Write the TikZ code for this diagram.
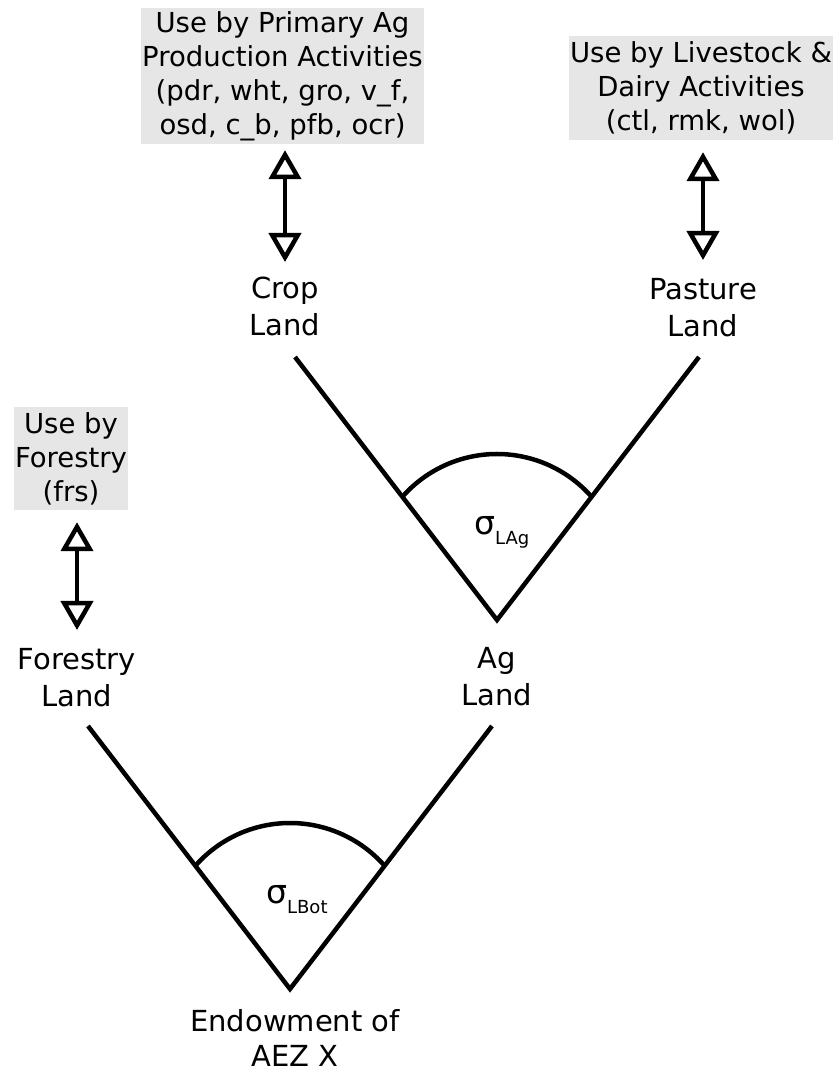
\documentclass[tikz,border=0pt]{standalone}
\usepackage{fontspec}
\setmainfont{DejaVu Sans}
\usetikzlibrary{arrows.meta}
\definecolor{boxgray}{HTML}{E6E6E6}
\begin{document}
\begin{tikzpicture}[x=1pt,y=1pt,
  usebox/.style={fill=boxgray, inner sep=0pt, align=center,
    font=\fontsize{27.5}{34}\selectfont},
  landlabel/.style={anchor=north, inner sep=0pt, align=center,
    font=\fontsize{29}{37}\selectfont},
  biarrow/.style={line width=4.5pt,
    {Triangle[open,length=29pt,width=32pt]}-{Triangle[open,length=29pt,width=32pt]}},
  branch/.style={line width=4.5pt, line join=miter},
  sigmalabel/.style={anchor=base west, inner sep=0pt,
    font=\fontsize{33}{33}\selectfont}]
\useasboundingbox (0,0) rectangle (835,1076);

% activity boxes
\node[usebox, minimum width=283pt, minimum height=136pt] (cropuse) at (282.5,1000)
  {Use by Primary Ag\\Production Activities\\(pdr, wht, gro, v\_f,\\osd, c\_b, pfb, ocr)};
\node[usebox, minimum width=264pt, minimum height=104pt] (pastureuse) at (701,988)
  {Use by Livestock \&\\Dairy Activities\\(ctl, rmk, wol)};
\node[usebox, minimum width=114pt, minimum height=103pt] (forestuse) at (71,617.5)
  {Use by\\Forestry\\(frs)};

% land types
\node[landlabel] (crop) at (285,799) {Crop\\Land};
\node[landlabel] (pasture) at (703,798) {Pasture\\Land};
\node[landlabel] (forest) at (77,428) {Forestry\\Land};
\node[landlabel] (ag) at (497,429) {Ag\\Land};
\node[landlabel, font=\fontsize{29}{35}\selectfont] (endow) at (295,67) {Endowment of\\AEZ X};

% two-way links between land and its use
\draw[biarrow, shorten <=6pt, shorten >=15pt] (cropuse.south -| crop.north) -- (crop.north);
\draw[biarrow, shorten <=12pt, shorten >=18pt] (pastureuse.south -| pasture.north) -- (pasture.north);
\draw[biarrow, shorten <=12pt, shorten >=18pt] (forestuse.south -| forest.north) -- (forest.north);

% CET nests
\coordinate (agV) at (497,456);
\coordinate (agL) at ([shift={(-202,263)}]agV);
\coordinate (agR) at ([shift={(202,263)}]agV);
\coordinate (agC) at ([shift={(0,40)}]agV);
\coordinate (botV) at (290,87);
\coordinate (botL) at ([shift={(-202,263)}]botV);
\coordinate (botR) at ([shift={(202,263)}]botV);
\coordinate (botC) at ([shift={(0,40)}]botV);

\draw[branch] (agL) -- (agV) -- (agR);
\draw[branch] ([shift={(138.8:126)}]agC) arc[start angle=138.8, end angle=41.2, radius=126];
\draw[branch] (botL) -- (botV) -- (botR);
\draw[branch] ([shift={(138.8:126)}]botC) arc[start angle=138.8, end angle=41.2, radius=126];

\node[sigmalabel] (sigAg) at ([shift={(-23,85)}]agV)
  {σ\raisebox{-10pt}{\fontsize{18}{18}\selectfont LAg}};
\node[sigmalabel] (sigBot) at ([shift={(-24,85)}]botV)
  {σ\raisebox{-10pt}{\fontsize{18}{18}\selectfont LBot}};
\end{tikzpicture}
\end{document}
